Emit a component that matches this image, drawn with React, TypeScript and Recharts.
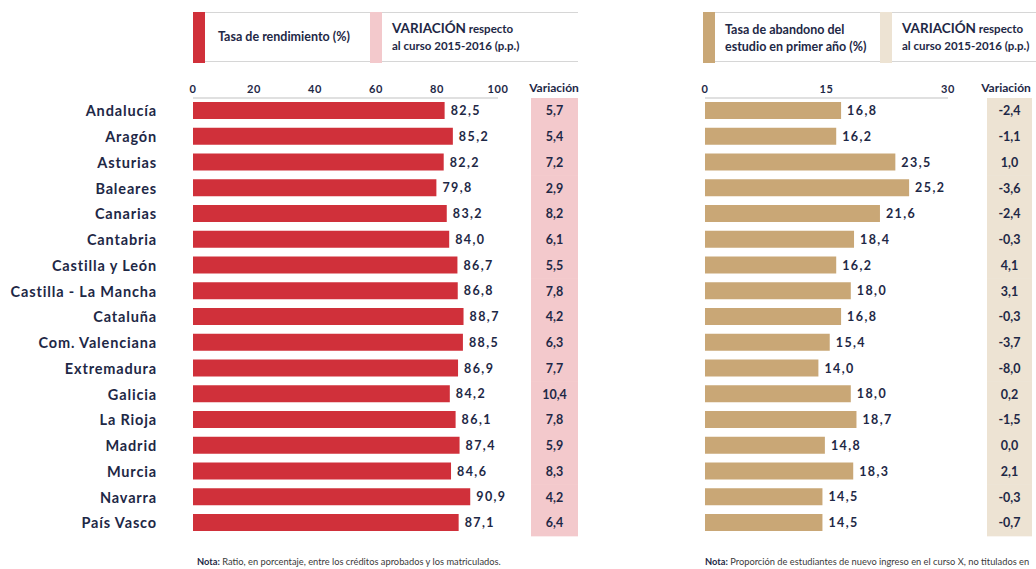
import React from 'react';
import { BarChart, Bar, XAxis, YAxis, LabelList } from 'recharts';

// Rendimiento y abandono por comunidad autónoma, con variación respecto a 2015-2016.

const regions = [
  'Andalucía', 'Aragón', 'Asturias', 'Baleares', 'Canarias', 'Cantabria',
  'Castilla y León', 'Castilla - La Mancha', 'Cataluña', 'Com. Valenciana',
  'Extremadura', 'Galicia', 'La Rioja', 'Madrid', 'Murcia', 'Navarra', 'País Vasco',
];
const rendimiento = [82.5, 85.2, 82.2, 79.8, 83.2, 84.0, 86.7, 86.8, 88.7, 88.5, 86.9, 84.2, 86.1, 87.4, 84.6, 90.9, 87.1];
const variacionRendimiento = [5.7, 5.4, 7.2, 2.9, 8.2, 6.1, 5.5, 7.8, 4.2, 6.3, 7.7, 10.4, 7.8, 5.9, 8.3, 4.2, 6.4];
const abandono = [16.8, 16.2, 23.5, 25.2, 21.6, 18.4, 16.2, 18.0, 16.8, 15.4, 14.0, 18.0, 18.7, 14.8, 18.3, 14.5, 14.5];
const variacionAbandono = [-2.4, -1.1, 1.0, -3.6, -2.4, -0.3, 4.1, 3.1, -0.3, -3.7, -8.0, 0.2, -1.5, 0.0, 2.1, -0.3, -0.7];
const rendTicks = [0, 20, 40, 60, 80, 100];
const abandTicks = [0, 15, 30];

const NAVY = '#1e2846';
const FONT = 'Lato, "Open Sans", sans-serif';
const LINE = '#d6d6d6';
const RED = '#d0303a';
const PINK = '#f3c9cc';
const TAN = '#c9a776';
const TAN_LIGHT = '#ede3d3';

const PLOT_TOP = 98;
const ROW = 25.75; // alto de cada fila (plot / 17)
const PLOT_BOTTOM = PLOT_TOP + ROW * regions.length;
const H = 569;

const fmt = (v: number) => v.toFixed(1).replace('.', ',');

const rendData = regions.map((region, i) => ({ region, value: rendimiento[i], variacion: variacionRendimiento[i] }));
const abandData = regions.map((region, i) => ({ region, value: abandono[i], variacion: variacionAbandono[i] }));

function ValueLabel(props: any) {
  const { x, y, width, height, value } = props;
  return (
    <text x={x + width + 6} y={y + height / 2} dominantBaseline="central" fill={NAVY}
      fontFamily={FONT} fontWeight={700} fontSize={12.5} letterSpacing={1.4}>
      {fmt(value)}
    </text>
  );
}

function makeVarTick(data: { region: string; variacion: number }[], bg: string, off: number, w: number) {
  return function VarTick(props: any) {
    const { x, y, payload } = props;
    const row = data.find(d => d.region === payload.value);
    if (!row) return <g />;
    return (
      <g>
        <rect x={x + off} y={y - ROW / 2} width={w} height={ROW + 0.6} fill={bg} />
        <text x={x + off + w / 2} y={y} textAnchor="middle" dominantBaseline="central"
          fill={NAVY} fontFamily={FONT} fontWeight={700} fontSize={12.5}>
          {fmt(row.variacion)}
        </text>
      </g>
    );
  };
}

function NameTick(props: any) {
  const { x, y, payload } = props;
  return (
    <text x={x} y={y} textAnchor="end" dominantBaseline="central" fill={NAVY}
      fontFamily={FONT} fontWeight={700} fontSize={14.5} letterSpacing={0.85}>
      {payload.value}
    </text>
  );
}

const axisTick = { fill: NAVY, fontFamily: FONT, fontWeight: 700, fontSize: 11, letterSpacing: 0.6 };

function Panel({ data, color, bg, ticks, domain, left, width, marginLeft, nameWidth, varOff, varW }: {
  data: { region: string; value: number; variacion: number }[];
  color: string; bg: string; ticks: number[]; domain: [number, number];
  left: number; width: number; marginLeft: number; nameWidth: number; varOff: number; varW: number;
}) {
  return (
    <div style={{ position: 'absolute', left, top: 0 }}>
      <BarChart width={width} height={H} data={data} layout="vertical"
        margin={{ top: PLOT_TOP - 30, right: 0, bottom: H - PLOT_BOTTOM, left: marginLeft }}
        barCategoryGap={0}>
        <XAxis type="number" orientation="top" domain={domain} ticks={ticks} interval={0}
          height={30} axisLine={{ stroke: LINE, strokeWidth: 1.5 }} tickLine={false}
          tickSize={0} tickMargin={5} tick={axisTick} />
        <YAxis yAxisId="names" type="category" dataKey="region" width={nameWidth}
          hide={nameWidth === 0} axisLine={false} tickLine={false} tickSize={0} tickMargin={36}
          interval={0} tick={<NameTick />} />
        <YAxis yAxisId="var" orientation="right" type="category" dataKey="region"
          width={width - marginLeft - nameWidth - (domain[1] === 100 ? 305 : 243)}
          axisLine={false} tickLine={false} tickSize={0} tickMargin={0} interval={0}
          tick={makeVarTick(data, bg, varOff, varW)} />
        <Bar yAxisId="names" dataKey="value" fill={color} barSize={17} isAnimationActive={false}>
          <LabelList dataKey="value" content={<ValueLabel />} />
        </Bar>
      </BarChart>
    </div>
  );
}

const headText: React.CSSProperties = {
  position: 'absolute', color: NAVY, fontFamily: FONT, fontWeight: 700, fontSize: 11.5, lineHeight: '17px', whiteSpace: 'nowrap',
};

function Header({ left, width, color, bg, title, titleLeft, varLeft }: {
  left: number; width: number; color: string; bg: string; title: string[]; titleLeft: number; varLeft: number;
}) {
  return (
    <>
      <div style={{ position: 'absolute', left, top: 12, width, height: 48, borderTop: `1.5px solid ${LINE}`, borderBottom: `1.5px solid ${LINE}` }} />
      <div style={{ position: 'absolute', left, top: 12, width: 12, height: 51, background: color }} />
      <div style={{ position: 'absolute', left: varLeft - 22, top: 12, width: 12, height: 51, background: bg }} />
      <div style={{ ...headText, fontSize: 12.5, left: titleLeft, top: title.length > 1 ? 21 : 28 }}>
        {title.map(t => <div key={t}>{t}</div>)}
      </div>
      <div style={{ ...headText, left: varLeft, top: 20 }}>
        <div><span style={{ fontSize: 13.5 }}>VARIACIÓN</span> respecto</div>
        <div>al curso 2015-2016 (p.p.)</div>
      </div>
    </>
  );
}

const varHead: React.CSSProperties = {
  position: 'absolute', top: 80, color: NAVY, fontFamily: FONT, fontWeight: 700, fontSize: 12, transform: 'translateX(-50%)',
};

const note: React.CSSProperties = {
  position: 'absolute', top: 556, color: '#3a3a3a', fontFamily: FONT, fontSize: 9.3, whiteSpace: 'nowrap',
};

export default function App() {
  return (
    <div style={{ position: 'relative', width: 1036, height: H, overflow: 'hidden', background: '#fff' }}>
      <style>{'body{margin:0}'}</style>
      <Header left={193} width={385} color={RED} bg={PINK} title={['Tasa de rendimiento (%)']} titleLeft={218} varLeft={392} />
      <Header left={703} width={333} color={TAN} bg={TAN_LIGHT} title={['Tasa de abandono del', 'estudio en primer año (%)']} titleLeft={725} varLeft={902} />
      <div style={{ ...varHead, left: 554 }}>Variación</div>
      <div style={{ ...varHead, left: 1006 }}>Variación</div>
      <Panel data={rendData} color={RED} bg={PINK} ticks={rendTicks} domain={[0, 100]}
        left={0} width={600} marginLeft={0} nameWidth={193} varOff={33} varW={47} />
      <Panel data={abandData} color={TAN} bg={TAN_LIGHT} ticks={abandTicks} domain={[0, 30]}
        left={600} width={436} marginLeft={105} nameWidth={0} varOff={39} varW={45} />
      <div style={{ ...note, left: 197 }}>
        <b style={{ color: NAVY }}>Nota:</b> Ratio, en porcentaje, entre los créditos aprobados y los matriculados.
      </div>
      <div style={{ ...note, left: 705 }}>
        <b style={{ color: NAVY }}>Nota:</b> Proporción de estudiantes de nuevo ingreso en el curso X, no titulados en
      </div>
    </div>
  );
}
